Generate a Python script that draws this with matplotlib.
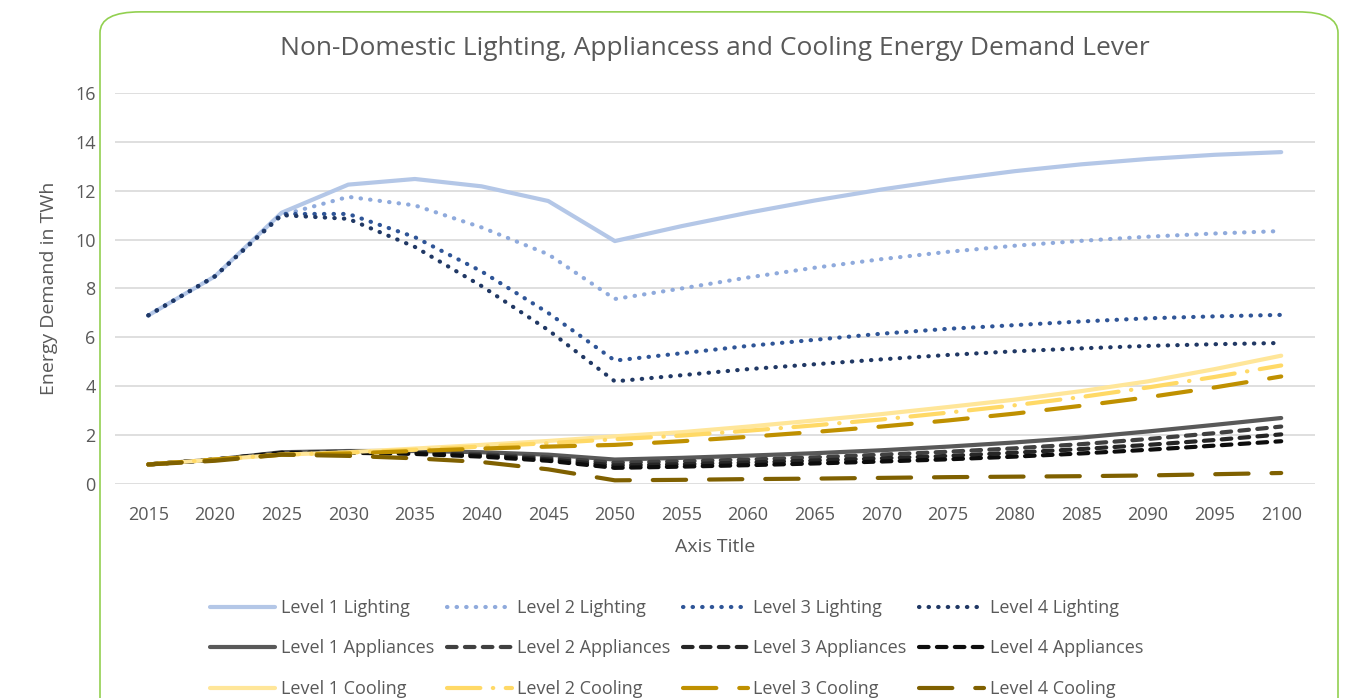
import matplotlib.pyplot as plt
from matplotlib.patches import FancyBboxPatch

plt.rcParams['font.family'] = ['Open Sans', 'DejaVu Sans']

years = [str(y) for y in range(2015, 2101, 5)]

light_l1 = [6.9, 8.5, 11.1, 12.25, 12.48, 12.18, 11.58, 9.94, 10.55, 11.1, 11.6, 12.05, 12.45, 12.8, 13.08, 13.3, 13.47, 13.58]
light_l2 = [6.9, 8.5, 11.0, 11.75, 11.4, 10.5, 9.4, 7.57, 8.0, 8.45, 8.85, 9.2, 9.5, 9.75, 9.95, 10.12, 10.25, 10.35]
light_l3 = [6.9, 8.5, 11.05, 11.05, 10.1, 8.7, 7.0, 5.05, 5.35, 5.65, 5.9, 6.15, 6.35, 6.5, 6.65, 6.78, 6.86, 6.92]
light_l4 = [6.9, 8.5, 11.0, 10.85, 9.7, 8.1, 6.3, 4.2, 4.45, 4.7, 4.9, 5.1, 5.28, 5.43, 5.55, 5.65, 5.72, 5.77]

app_l1 = [0.8, 1.0, 1.3, 1.35, 1.35, 1.3, 1.2, 1.0, 1.07, 1.16, 1.26, 1.38, 1.53, 1.7, 1.9, 2.15, 2.42, 2.7]
app_l2 = [0.8, 1.0, 1.28, 1.32, 1.3, 1.22, 1.08, 0.87, 0.93, 1.0, 1.09, 1.2, 1.32, 1.46, 1.63, 1.84, 2.08, 2.35]
app_l3 = [0.8, 1.0, 1.27, 1.3, 1.27, 1.17, 1.01, 0.76, 0.81, 0.88, 0.96, 1.05, 1.15, 1.28, 1.43, 1.6, 1.8, 2.03]
app_l4 = [0.8, 1.0, 1.26, 1.28, 1.23, 1.12, 0.95, 0.66, 0.71, 0.77, 0.84, 0.92, 1.01, 1.12, 1.25, 1.4, 1.57, 1.75]

cool_l1 = [0.8, 1.0, 1.2, 1.3, 1.45, 1.6, 1.76, 1.95, 2.12, 2.35, 2.6, 2.86, 3.15, 3.45, 3.8, 4.2, 4.7, 5.25]
cool_l2 = [0.8, 1.0, 1.2, 1.28, 1.4, 1.53, 1.67, 1.83, 1.98, 2.18, 2.4, 2.64, 2.92, 3.22, 3.56, 3.95, 4.38, 4.85]
cool_l3 = [0.8, 1.0, 1.2, 1.25, 1.35, 1.45, 1.53, 1.6, 1.75, 1.93, 2.13, 2.35, 2.6, 2.88, 3.2, 3.55, 3.95, 4.4]
cool_l4 = [0.8, 0.95, 1.2, 1.15, 1.05, 0.9, 0.6, 0.15, 0.17, 0.2, 0.22, 0.25, 0.28, 0.3, 0.32, 0.35, 0.4, 0.45]

grey = '#595959'
dot = (0, (0.1, 2.2))
dash = (0, (2.3, 2.0))
longdash = (0, (8, 5.5))
longdashdot = (0, (8, 3, 0.1, 3))

series = [
    ('Level 1 Lighting', light_l1, '#B4C7E7', '-'),
    ('Level 1 Appliances', app_l1, '#595959', '-'),
    ('Level 1 Cooling', cool_l1, '#FFE699', '-'),
    ('Level 2 Lighting', light_l2, '#8FAADC', dot),
    ('Level 2 Appliances', app_l2, '#404040', dash),
    ('Level 2 Cooling', cool_l2, '#FFD966', longdashdot),
    ('Level 3 Lighting', light_l3, '#2F5597', dot),
    ('Level 3 Appliances', app_l3, '#262626', dash),
    ('Level 3 Cooling', cool_l3, '#BF9000', longdash),
    ('Level 4 Lighting', light_l4, '#203864', dot),
    ('Level 4 Appliances', app_l4, '#0D0D0D', dash),
    ('Level 4 Cooling', cool_l4, '#7F6000', longdash),
]

fig = plt.figure(figsize=(13.47, 6.98), dpi=100)
fig.patches.append(FancyBboxPatch((100 / 1347, -0.05), 1238 / 1347, 1.033,
                                  boxstyle='round,pad=0,rounding_size=0.03',
                                  transform=fig.transFigure, facecolor='none',
                                  edgecolor='#92D050', linewidth=1.2))
ax = fig.add_axes([0.0854, 0.3066, 0.8905, 0.5602])

x = list(range(len(years)))
# draw order: lighting, appliances, cooling with level 1 at back
draw_order = [0, 3, 6, 9, 1, 4, 7, 10, 2, 5, 8, 11]
handles = {}
for i in draw_order:
    name, vals, col, ls = series[i]
    h, = ax.plot(x, vals, color=col, linestyle=ls, linewidth=3,
                 dash_capstyle='round', solid_capstyle='round', label=name)
    handles[i] = h

ax.set_xlim(-0.5, len(years) - 0.5)
ax.set_ylim(0, 16)
ax.set_yticks(range(0, 17, 2))
ax.set_xticks(x)
ax.set_xticklabels(years)
ax.grid(axis='y', color='#D9D9D9', linewidth=1.2)
ax.set_axisbelow(True)
for s in ax.spines.values():
    s.set_visible(False)
ax.tick_params(length=0, labelsize=13, colors=grey)
ax.tick_params(axis='x', pad=16)
ax.tick_params(axis='y', pad=14)
ax.set_xlabel('Axis Title', fontsize=14, color=grey, labelpad=10)
ax.set_ylabel('Energy Demand in TWh', fontsize=14, color=grey, labelpad=12)
ax.set_title('Non-Domestic Lighting, Appliancess and Cooling Energy Demand Lever',
             fontsize=19, color=grey, pad=27)

fig.legend([handles[i] for i in range(12)], [s[0] for s in series],
           loc='upper left', bbox_to_anchor=(0.1495, 0.155), ncol=4, frameon=False,
           fontsize=13, labelcolor=grey, handlelength=3.6, columnspacing=0.7,
           labelspacing=1.25, handletextpad=0.3, borderpad=0)

plt.savefig('out.png', dpi=100)
